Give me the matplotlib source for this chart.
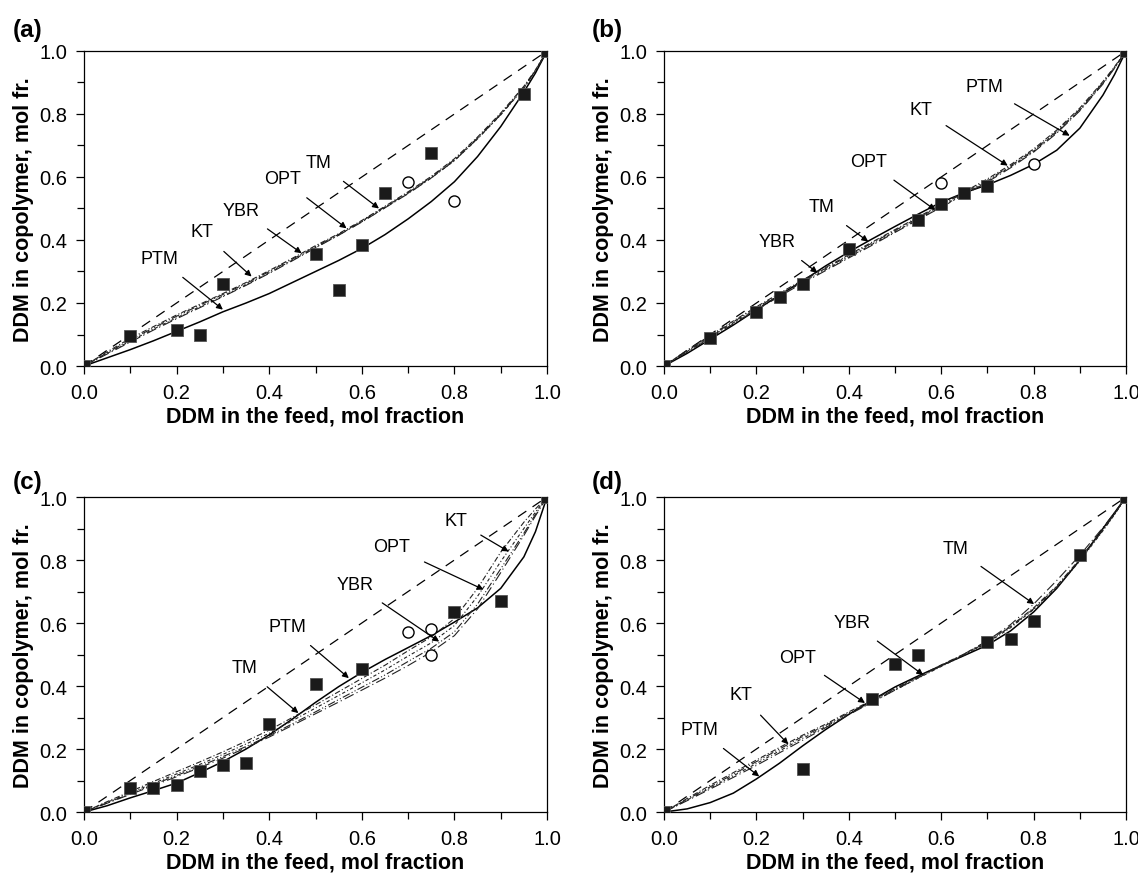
import numpy as np
import matplotlib.pyplot as plt

plt.rcParams['font.family'] = ['Liberation Sans', 'DejaVu Sans']

# feed composition grid for the model curves
xg = [0, 0.05, 0.1, 0.15, 0.2, 0.25, 0.3, 0.35, 0.4, 0.45, 0.5,
      0.55, 0.6, 0.65, 0.7, 0.75, 0.8, 0.85, 0.9, 0.95, 0.975, 1.0]

# ---- panel (a)
a_sq_x = [0, 0.1, 0.2, 0.25, 0.3, 0.5, 0.55, 0.6, 0.65, 0.75, 0.95, 1.0]
a_sq_y = [0, 0.095, 0.115, 0.10, 0.26, 0.355, 0.24, 0.385, 0.55, 0.675, 0.865, 1.0]
a_ci_x = [0.7, 0.8]
a_ci_y = [0.585, 0.525]
a_ptm = [0, 0.026, 0.052, 0.08, 0.11, 0.14, 0.172, 0.2, 0.23, 0.265, 0.30,
         0.335, 0.373, 0.417, 0.467, 0.522, 0.585, 0.665, 0.76, 0.87, 0.93, 1.0]
a_kt = [0, 0.045, 0.088, 0.125, 0.162, 0.196, 0.230, 0.265, 0.303, 0.342, 0.382,
        0.420, 0.462, 0.507, 0.553, 0.602, 0.658, 0.727, 0.803, 0.888, 0.94, 1.0]
a_ybr = [0, 0.042, 0.083, 0.121, 0.158, 0.193, 0.227, 0.262, 0.300, 0.339, 0.379,
         0.418, 0.460, 0.505, 0.550, 0.600, 0.655, 0.724, 0.800, 0.884, 0.938, 1.0]
a_opt = [0, 0.040, 0.079, 0.117, 0.153, 0.188, 0.222, 0.258, 0.296, 0.336, 0.376,
         0.416, 0.458, 0.503, 0.548, 0.597, 0.652, 0.721, 0.797, 0.882, 0.937, 1.0]
a_tm = [0, 0.038, 0.076, 0.114, 0.150, 0.185, 0.220, 0.256, 0.294, 0.334, 0.375,
        0.415, 0.457, 0.502, 0.547, 0.597, 0.652, 0.722, 0.798, 0.884, 0.938, 1.0]

# ---- panel (b)
b_sq_x = [0, 0.1, 0.2, 0.25, 0.3, 0.4, 0.55, 0.6, 0.65, 0.7, 1.0]
b_sq_y = [0, 0.09, 0.17, 0.22, 0.26, 0.37, 0.465, 0.515, 0.55, 0.57, 1.0]
b_ci_x = [0.6, 0.8]
b_ci_y = [0.58, 0.64]
b_ptm = [0, 0.04, 0.085, 0.13, 0.178, 0.225, 0.27, 0.318, 0.362, 0.403, 0.443,
         0.482, 0.52, 0.55, 0.575, 0.605, 0.64, 0.685, 0.755, 0.86, 0.925, 1.0]
b_kt = [0, 0.05, 0.097, 0.143, 0.188, 0.231, 0.273, 0.313, 0.353, 0.393, 0.433,
        0.473, 0.513, 0.553, 0.594, 0.639, 0.689, 0.749, 0.819, 0.903, 0.95, 1.0]
b_ybr = [0, 0.048, 0.095, 0.14, 0.185, 0.228, 0.27, 0.31, 0.35, 0.39, 0.43,
         0.47, 0.51, 0.55, 0.59, 0.635, 0.685, 0.745, 0.815, 0.90, 0.948, 1.0]
b_opt = [0, 0.046, 0.092, 0.137, 0.181, 0.224, 0.266, 0.306, 0.346, 0.386, 0.426,
         0.466, 0.506, 0.546, 0.587, 0.632, 0.682, 0.742, 0.812, 0.897, 0.946, 1.0]
b_tm = [0, 0.044, 0.089, 0.134, 0.178, 0.221, 0.263, 0.303, 0.343, 0.383, 0.424,
        0.464, 0.504, 0.544, 0.584, 0.629, 0.679, 0.739, 0.81, 0.895, 0.945, 1.0]

# ---- panel (c)
c_sq_x = [0, 0.1, 0.15, 0.2, 0.25, 0.3, 0.35, 0.4, 0.5, 0.6, 0.8, 0.9, 1.0]
c_sq_y = [0, 0.075, 0.075, 0.085, 0.13, 0.15, 0.155, 0.28, 0.405, 0.455, 0.635, 0.67, 1.0]
c_ci_x = [0.7, 0.75, 0.75]
c_ci_y = [0.57, 0.58, 0.50]
c_ptm = [0, 0.02, 0.045, 0.068, 0.092, 0.125, 0.16, 0.2, 0.245, 0.295, 0.348,
         0.398, 0.443, 0.484, 0.522, 0.56, 0.603, 0.648, 0.71, 0.81, 0.89, 1.0]
c_kt = [0, 0.033, 0.065, 0.097, 0.128, 0.159, 0.191, 0.225, 0.26, 0.3, 0.34,
        0.382, 0.424, 0.466, 0.512, 0.556, 0.614, 0.71, 0.825, 0.92, 0.962, 1.0]
c_ybr = [0, 0.029, 0.058, 0.087, 0.116, 0.145, 0.176, 0.208, 0.242, 0.28, 0.318,
         0.357, 0.396, 0.435, 0.478, 0.52, 0.572, 0.66, 0.772, 0.885, 0.945, 1.0]
c_opt = [0, 0.031, 0.061, 0.091, 0.121, 0.151, 0.183, 0.216, 0.25, 0.29, 0.33,
         0.37, 0.41, 0.451, 0.495, 0.537, 0.592, 0.685, 0.795, 0.9, 0.952, 1.0]
c_tm = [0, 0.028, 0.056, 0.084, 0.112, 0.141, 0.171, 0.204, 0.238, 0.275, 0.312,
        0.349, 0.387, 0.425, 0.465, 0.508, 0.56, 0.645, 0.76, 0.878, 0.94, 1.0]

# ---- panel (d)
d_sq_x = [0, 0.3, 0.45, 0.5, 0.55, 0.7, 0.75, 0.8, 0.9, 1.0]
d_sq_y = [0, 0.135, 0.36, 0.47, 0.50, 0.54, 0.55, 0.605, 0.815, 1.0]
d_ptm = [0, 0.01, 0.03, 0.06, 0.105, 0.155, 0.21, 0.262, 0.31, 0.355, 0.397,
         0.432, 0.465, 0.497, 0.53, 0.575, 0.635, 0.71, 0.80, 0.9, 0.95, 1.0]
d_kt = [0, 0.043, 0.085, 0.125, 0.165, 0.205, 0.244, 0.279, 0.318, 0.355, 0.392,
        0.43, 0.467, 0.502, 0.542, 0.59, 0.648, 0.718, 0.803, 0.897, 0.946, 1.0]
d_ybr = [0, 0.04, 0.08, 0.12, 0.16, 0.2, 0.24, 0.275, 0.315, 0.352, 0.39,
         0.428, 0.465, 0.50, 0.54, 0.588, 0.645, 0.715, 0.80, 0.895, 0.945, 1.0]
d_opt = [0, 0.038, 0.076, 0.115, 0.154, 0.194, 0.234, 0.271, 0.311, 0.349, 0.387,
         0.425, 0.462, 0.498, 0.537, 0.585, 0.643, 0.712, 0.797, 0.893, 0.944, 1.0]
d_tm = [0, 0.036, 0.073, 0.11, 0.148, 0.188, 0.228, 0.268, 0.309, 0.348, 0.387,
        0.426, 0.464, 0.502, 0.544, 0.595, 0.66, 0.735, 0.815, 0.903, 0.95, 1.0]

# ---- annotation labels: (name, text x, text y, arrow tip x, arrow tip y)
a_notes = [('TM', 0.507, 0.646, 0.637, 0.50), ('OPT', 0.428, 0.594, 0.567, 0.437),
           ('YBR', 0.34, 0.494, 0.470, 0.358), ('KT', 0.255, 0.426, 0.362, 0.284),
           ('PTM', 0.162, 0.342, 0.300, 0.179)]
b_notes = [('PTM', 0.693, 0.888, 0.878, 0.731), ('KT', 0.557, 0.814, 0.744, 0.636),
           ('OPT', 0.442, 0.649, 0.587, 0.495), ('TM', 0.340, 0.505, 0.442, 0.395),
           ('YBR', 0.245, 0.395, 0.332, 0.296)]
c_notes = [('KT', 0.803, 0.926, 0.917, 0.827), ('OPT', 0.665, 0.842, 0.863, 0.706),
           ('YBR', 0.586, 0.722, 0.767, 0.541), ('PTM', 0.440, 0.590, 0.572, 0.425),
           ('TM', 0.346, 0.459, 0.463, 0.314)]
d_notes = [('TM', 0.630, 0.838, 0.801, 0.660), ('YBR', 0.407, 0.602, 0.561, 0.435),
           ('OPT', 0.289, 0.492, 0.435, 0.346), ('KT', 0.167, 0.372, 0.269, 0.215),
           ('PTM', 0.076, 0.262, 0.206, 0.113)]

model_styles = {'KT': (0, (5, 2, 1, 2)), 'YBR': (0, (7, 2, 1, 2, 1, 2)),
                'OPT': (0, (3, 2, 1, 2)), 'TM': (0, (9, 3, 1, 3))}

panels = [
    ('(a)', [0.0738, 0.5820, 0.4069, 0.3588], a_sq_x, a_sq_y, a_ci_x, a_ci_y,
     a_ptm, a_kt, a_ybr, a_opt, a_tm, a_notes, (0.0114, 0.9647)),
    ('(b)', [0.5835, 0.5820, 0.4060, 0.3588], b_sq_x, b_sq_y, b_ci_x, b_ci_y,
     b_ptm, b_kt, b_ybr, b_opt, b_tm, b_notes, (0.5200, 0.9647)),
    ('(c)', [0.0738, 0.0740, 0.4069, 0.3588], c_sq_x, c_sq_y, c_ci_x, c_ci_y,
     c_ptm, c_kt, c_ybr, c_opt, c_tm, c_notes, (0.0114, 0.4510)),
    ('(d)', [0.5835, 0.0740, 0.4060, 0.3588], d_sq_x, d_sq_y, [], [],
     d_ptm, d_kt, d_ybr, d_opt, d_tm, d_notes, (0.5200, 0.4510)),
]

fig = plt.figure(figsize=(11.38, 8.78), dpi=100)

for (tag, rect, sqx, sqy, cix, ciy, ptm, kt, ybr, opt, tm, notes, tagpos) in panels:
    ax = fig.add_axes(rect)
    ax.plot([0, 1], [0, 1], color='black', lw=0.9, ls=(0, (8, 6)))
    ax.plot(xg, ptm, color='black', lw=1.1, ls='-')
    for name, ys in zip(['KT', 'YBR', 'OPT', 'TM'], [kt, ybr, opt, tm]):
        ax.plot(xg, ys, color='#222222', lw=0.8, ls=model_styles[name])
    ax.plot(sqx, sqy, 's', color='#1a1a1a', ms=8, mec='#555555', mew=0.6,
            zorder=5)
    if cix:
        ax.plot(cix, ciy, 'o', mfc='white', mec='black', ms=8, mew=1.0, zorder=5)
    for name, tx, ty, px, py in notes:
        ax.annotate(name, xy=(px, py), xytext=(tx, ty), fontsize=13,
                    ha='center', va='center',
                    arrowprops=dict(arrowstyle='-|>', color='black', lw=0.9,
                                    mutation_scale=9, shrinkA=9, shrinkB=0))
    ax.set_xlim(0, 1)
    ax.set_ylim(0, 1)
    ax.set_xticks(np.arange(0, 1.01, 0.2))
    ax.set_yticks(np.arange(0, 1.01, 0.2))
    ax.set_xticks(np.arange(0.1, 1.0, 0.2), minor=True)
    ax.set_yticks(np.arange(0.1, 1.0, 0.2), minor=True)
    ax.xaxis.set_major_formatter(plt.FormatStrFormatter('%.1f'))
    ax.yaxis.set_major_formatter(plt.FormatStrFormatter('%.1f'))
    ax.tick_params(which='major', direction='out', length=6, width=0.9,
                   labelsize=14.5, pad=6)
    ax.tick_params(which='minor', direction='out', length=5, width=0.9)
    for sp in ax.spines.values():
        sp.set_linewidth(0.9)
    ax.set_xlabel('DDM in the feed, mol fraction', fontsize=15.5,
                  fontweight='bold', labelpad=3)
    ax.set_ylabel('DDM in copolymer, mol fr.', fontsize=15.5,
                  fontweight='bold', labelpad=4)
    fig.text(tagpos[0], tagpos[1], tag, fontsize=17.5, fontweight='bold',
             ha='left', va='center')

fig.savefig('out.png', dpi=100)
